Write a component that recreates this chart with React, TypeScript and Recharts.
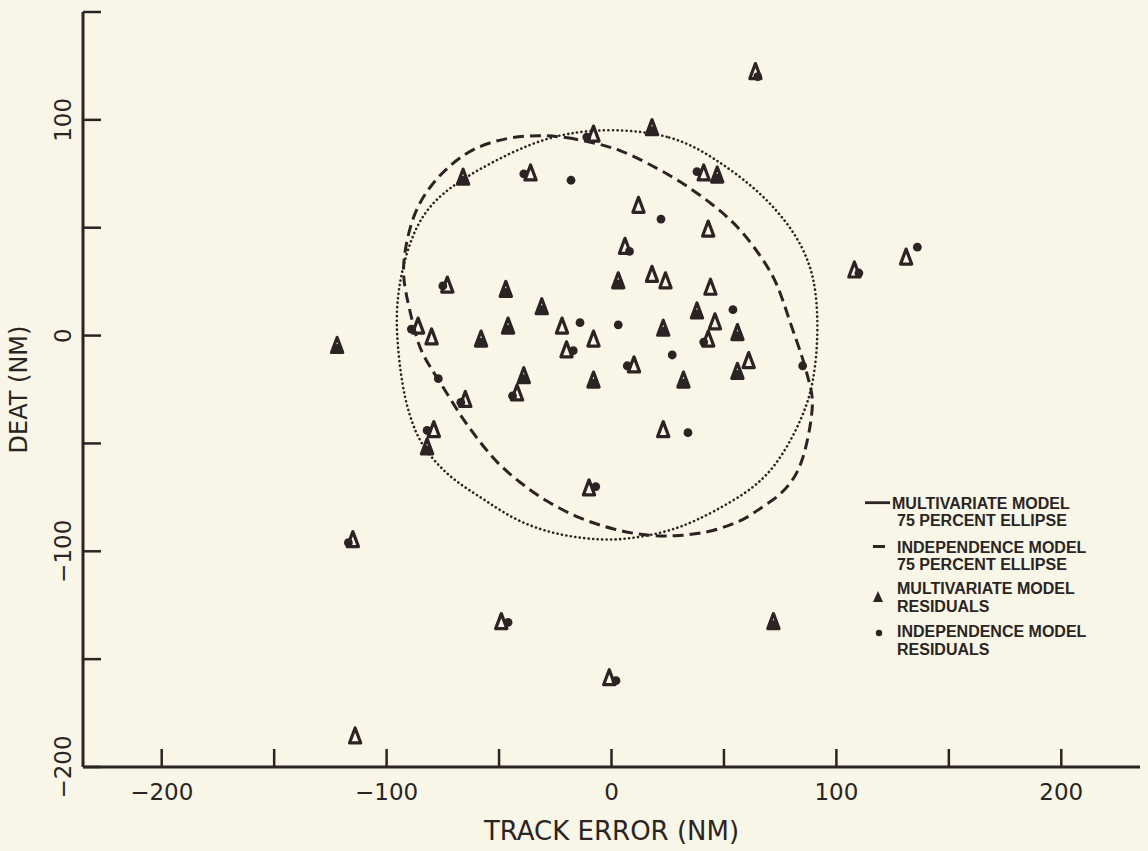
import React from 'react';
import { ScatterChart, Scatter, XAxis, YAxis, Legend } from 'recharts';

const INK = '#2a2424';
const PAPER = '#f8f7e7';

const X_TICKS = [-200, -150, -100, -50, 0, 50, 100, 150, 200];
const Y_TICKS = [-200, -150, -100, -50, 0, 50, 100, 150];
const X_LABELLED = [-200, -100, 0, 100, 200];
const Y_LABELLED = [-200, -100, 0, 100];

// residuals from the multivariate model (triangles)
const MULTIVARIATE_RESIDUALS = [
  { x: 64, y: 121 }, { x: 18, y: 95 }, { x: -8, y: 92 }, { x: -66, y: 72 },
  { x: -36, y: 74 }, { x: 41, y: 74 }, { x: 47, y: 73 }, { x: 12, y: 59 },
  { x: 43, y: 48 }, { x: 6, y: 40 }, { x: 3, y: 24 }, { x: 18, y: 27 },
  { x: 24, y: 24 }, { x: 44, y: 21 }, { x: -73, y: 22 }, { x: -47, y: 20 },
  { x: -31, y: 12 }, { x: 38, y: 10 }, { x: 46, y: 5 }, { x: -46, y: 3 },
  { x: -22, y: 3 }, { x: 23, y: 2 }, { x: 56, y: 0 }, { x: -86, y: 3 },
  { x: -80, y: -2 }, { x: -58, y: -3 }, { x: -8, y: -3 }, { x: -20, y: -8 },
  { x: 43, y: -3 }, { x: 61, y: -13 }, { x: 56, y: -18 }, { x: 10, y: -15 },
  { x: -39, y: -20 }, { x: -8, y: -22 }, { x: 32, y: -22 }, { x: -42, y: -28 },
  { x: -65, y: -31 }, { x: -79, y: -45 }, { x: -82, y: -53 }, { x: 23, y: -45 },
  { x: -10, y: -72 }, { x: -122, y: -6 }, { x: -115, y: -96 }, { x: -49, y: -134 },
  { x: -1, y: -160 }, { x: -114, y: -187 }, { x: 72, y: -134 }, { x: 131, y: 35 },
  { x: 108, y: 29 },
];

// residuals from the independence model (dots)
const INDEPENDENCE_RESIDUALS = [
  { x: 65, y: 120 }, { x: 18, y: 95 }, { x: -66, y: 72 }, { x: 47, y: 73 },
  { x: 3, y: 24 }, { x: -47, y: 20 }, { x: -31, y: 12 }, { x: 38, y: 10 },
  { x: -46, y: 3 }, { x: 23, y: 2 }, { x: 56, y: 0 }, { x: -58, y: -3 },
  { x: 56, y: -18 }, { x: -39, y: -20 }, { x: -8, y: -22 }, { x: 32, y: -22 },
  { x: -82, y: -53 }, { x: -122, y: -6 }, { x: 72, y: -134 }, { x: 110, y: 29 },
  { x: -11, y: 92 }, { x: -39, y: 75 }, { x: 38, y: 76 }, { x: 8, y: 39 },
  { x: -75, y: 23 }, { x: -89, y: 3 }, { x: -17, y: -7 }, { x: 41, y: -3 },
  { x: 7, y: -14 }, { x: -44, y: -28 }, { x: -67, y: -31 }, { x: -82, y: -44 },
  { x: -7, y: -70 }, { x: -117, y: -96 }, { x: -46, y: -133 }, { x: 2, y: -160 },
  { x: 136, y: 41 }, { x: -18, y: 72 }, { x: 22, y: 54 }, { x: 54, y: 12 },
  { x: -14, y: 6 }, { x: 3, y: 5 }, { x: 27, y: -9 }, { x: -77, y: -20 },
  { x: 34, y: -45 }, { x: 85, y: -14 },
];

// 75 percent ellipse outlines, traced clockwise from the top
const MULTIVARIATE_ELLIPSE = [
  { x: -32, y: 93 }, { x: -20, y: 92 }, { x: -6, y: 89 }, { x: 4, y: 86 },
  { x: 16, y: 80 }, { x: 30, y: 72 }, { x: 45, y: 61 }, { x: 57, y: 50 },
  { x: 67, y: 36 }, { x: 74, y: 24 }, { x: 79, y: 7 }, { x: 85, y: -10 },
  { x: 88, y: -22 }, { x: 90, y: -30 }, { x: 88, y: -45 }, { x: 85, y: -58 },
  { x: 81, y: -67 }, { x: 74, y: -75 }, { x: 66, y: -80 }, { x: 60, y: -85 },
  { x: 45, y: -91 }, { x: 30, y: -93 }, { x: 16, y: -93 }, { x: 1, y: -90 },
  { x: -14, y: -85 }, { x: -29, y: -77 }, { x: -41, y: -68 }, { x: -51, y: -59 },
  { x: -58, y: -50 }, { x: -66, y: -39 }, { x: -73, y: -27 }, { x: -81, y: -14 },
  { x: -86, y: -5 }, { x: -90, y: 13 }, { x: -93, y: 27 }, { x: -92, y: 40 },
  { x: -88, y: 57 }, { x: -81, y: 69 }, { x: -73, y: 78 }, { x: -62, y: 87 },
  { x: -46, y: 92 },
];

const INDEPENDENCE_ELLIPSE = [
  { x: 1, y: 96 }, { x: 27, y: 93 }, { x: 45, y: 83 }, { x: 66, y: 67 },
  { x: 81, y: 49 }, { x: 88, y: 34 }, { x: 91, y: 21 }, { x: 92, y: 1 },
  { x: 90, y: -22 }, { x: 85, y: -38 }, { x: 76, y: -56 }, { x: 65, y: -70 },
  { x: 45, y: -82 }, { x: 31, y: -89 }, { x: 16, y: -93 }, { x: 1, y: -95 },
  { x: -14, y: -94 }, { x: -29, y: -91 }, { x: -44, y: -85 }, { x: -58, y: -75 },
  { x: -72, y: -66 }, { x: -84, y: -52 }, { x: -89, y: -40 }, { x: -93, y: -25 },
  { x: -96, y: 3 }, { x: -95, y: 21 }, { x: -91, y: 40 }, { x: -84, y: 57 },
  { x: -72, y: 69 }, { x: -54, y: 80 }, { x: -36, y: 89 }, { x: -20, y: 94 },
];

const LEGEND_ROWS = [
  ['MULTIVARIATE MODEL', '75 PERCENT ELLIPSE'],
  ['INDEPENDENCE MODEL', '75 PERCENT ELLIPSE'],
  ['MULTIVARIATE MODEL', 'RESIDUALS'],
  ['INDEPENDENCE MODEL', 'RESIDUALS'],
];

const fmt = (v: number) => (v < 0 ? `\u2212${Math.abs(v)}` : `${v}`);

const Triangle = (props: any) => {
  const { cx, cy } = props;
  return (
    <path
      d={`M${cx},${cy - 11} L${cx + 5.6},${cy + 4} L${cx - 5.6},${cy + 4} Z`}
      fill="none"
      stroke={INK}
      strokeWidth={3.2}
      strokeLinejoin="round"
    />
  );
};

const Dot = (props: any) => <circle cx={props.cx} cy={props.cy} r={4.4} fill={INK} />;

const NoMark = () => <g />;

const XTick = (props: any) => {
  const { x, y, payload } = props;
  return (
    <g>
      <line x1={x} y1={y} x2={x} y2={y - 18} stroke={INK} strokeWidth={2.5} />
      {X_LABELLED.includes(payload.value) && (
        <text x={x} y={y + 33} textAnchor="middle" fontSize={23} fill={INK} fontFamily="DejaVu Sans">
          {fmt(payload.value)}
        </text>
      )}
    </g>
  );
};

const YTick = (props: any) => {
  const { x, y, payload } = props;
  return (
    <g>
      <line x1={x} y1={y} x2={x + 18} y2={y} stroke={INK} strokeWidth={2.5} />
      {Y_LABELLED.includes(payload.value) && (
        <text
          x={x - 12}
          y={y}
          textAnchor="middle"
          fontSize={23}
          fill={INK}
          fontFamily="DejaVu Sans"
          transform={`rotate(-90, ${x - 12}, ${y})`}
        >
          {fmt(payload.value)}
        </text>
      )}
    </g>
  );
};

const LegendBox = () => {
  const textY = [18.7, 35.7, 62.7, 79.7, 103.7, 121.7, 146.7, 164.7];
  const textProps = { fontSize: 16, fontWeight: 700, fill: INK, fontFamily: 'Liberation Sans' };
  return (
    <svg width={250} height={175} style={{ overflow: 'visible', display: 'block' }}>
      <line x1={5} y1={12.7} x2={30} y2={12.7} stroke={INK} strokeWidth={2.8} />
      <line x1={13} y1={56.5} x2={25} y2={56.5} stroke={INK} strokeWidth={3} />
      <path d="M18,101 L23,112 L13,112 Z" fill={INK} />
      <circle cx={19} cy={143} r={3.2} fill={INK} />
      {LEGEND_ROWS.map((row, i) => (
        <g key={i}>
          <text x={i === 0 ? 32 : 37} y={textY[i * 2]} {...textProps}>{row[0]}</text>
          <text x={37} y={textY[i * 2 + 1]} {...textProps}>{row[1]}</text>
        </g>
      ))}
    </svg>
  );
};

const XTitle = (props: any) => {
  const vb = props.viewBox || { x: 83, y: 767, width: 1057 };
  return (
    <text x={vb.x + vb.width / 2} y={vb.y + 73} textAnchor="middle" fontSize={26} fill={INK} fontFamily="DejaVu Sans">
      TRACK ERROR (NM)
    </text>
  );
};

const YTitle = (props: any) => {
  const vb = props.viewBox || { x: 23, y: 12, height: 755 };
  const cx = vb.x + 4;
  const cy = vb.y + vb.height / 2;
  return (
    <text
      x={cx}
      y={cy}
      textAnchor="middle"
      fontSize={24}
      fill={INK}
      fontFamily="DejaVu Sans"
      transform={`rotate(-90, ${cx}, ${cy})`}
    >
      DEAT (NM)
    </text>
  );
};

export default function App() {
  return (
    <div style={{ position: 'absolute', left: 0, top: 0, width: 1148, height: 851, background: PAPER }}>
      <ScatterChart width={1148} height={851} margin={{ top: 12, right: 8, bottom: 24, left: 23 }}>
        <XAxis
          type="number"
          dataKey="x"
          domain={[-235, 235]}
          ticks={X_TICKS}
          interval={0}
          height={60}
          tickSize={0}
          tickMargin={0}
          tickLine={false}
          tick={<XTick />}
          axisLine={{ stroke: INK, strokeWidth: 3 }}
          label={<XTitle />}
          allowDataOverflow
        />
        <YAxis
          type="number"
          dataKey="y"
          domain={[-200, 150]}
          ticks={Y_TICKS}
          interval={0}
          width={60}
          tickSize={0}
          tickMargin={0}
          tickLine={false}
          tick={<YTick />}
          axisLine={{ stroke: INK, strokeWidth: 3 }}
          label={<YTitle />}
          allowDataOverflow
        />
        <Legend
          layout="vertical"
          align="center"
          verticalAlign="middle"
          content={<LegendBox />}
          wrapperStyle={{ left: 860, top: 490, width: 250, height: 175 }}
        />
        <Scatter
          name="Multivariate model 75 percent ellipse"
          data={MULTIVARIATE_ELLIPSE}
          line={{ stroke: INK, strokeWidth: 3, strokeDasharray: '11 6' }}
          lineJointType="basisClosed"
          shape={<NoMark />}
          isAnimationActive={false}
        />
        <Scatter
          name="Independence model 75 percent ellipse"
          data={INDEPENDENCE_ELLIPSE}
          line={{ stroke: INK, strokeWidth: 2.6, strokeDasharray: '0.1 4.4', strokeLinecap: 'round' }}
          lineJointType="basisClosed"
          shape={<NoMark />}
          isAnimationActive={false}
        />
        <Scatter
          name="Multivariate model residuals"
          data={MULTIVARIATE_RESIDUALS}
          shape={<Triangle />}
          isAnimationActive={false}
        />
        <Scatter
          name="Independence model residuals"
          data={INDEPENDENCE_RESIDUALS}
          shape={<Dot />}
          isAnimationActive={false}
        />
      </ScatterChart>
    </div>
  );
}
